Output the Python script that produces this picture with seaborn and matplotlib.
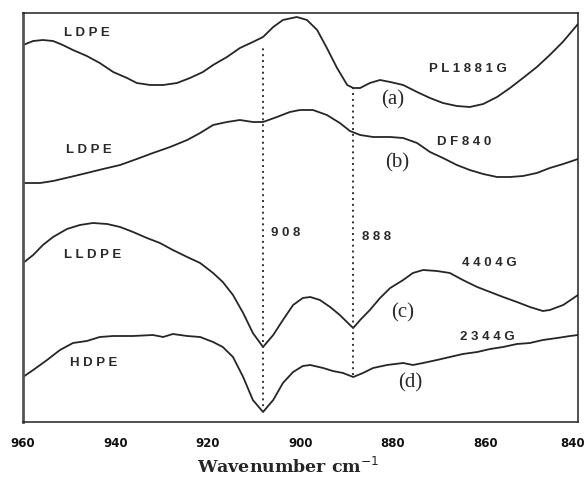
import pandas as pd
import matplotlib
matplotlib.use("Agg")
import matplotlib.pyplot as plt
import matplotlib.transforms as mtransforms
import seaborn as sns

# Wavenumber (cm-1) and relative absorbance (arbitrary units)
wn_a = [960.0, 957.8, 955.7, 953.5, 951.4, 949.2, 946.2, 943.4, 940.5, 937.5, 935.4, 932.5,
        929.7, 926.7, 923.9, 921.1, 918.9, 915.9, 913.1, 910.3, 908.1, 905.9, 903.8, 900.8,
        898.6, 896.4, 894.3, 892.1, 889.9, 888.6, 887.1, 885.0, 882.8, 880.6, 877.8, 874.8,
        872.0, 869.2, 866.2, 863.4, 860.5, 857.5, 854.7, 851.9, 848.9, 846.1, 843.3, 840.0]
ab_a = [377, 381, 382, 381, 377, 372, 366, 359, 350, 344, 339, 337,
        337, 339, 344, 350, 357, 365, 374, 380, 385, 395, 402, 405,
        402, 392, 374, 354, 337, 334, 334, 339, 342, 340, 337, 330,
        324, 319, 316, 315, 318, 325, 334, 344, 355, 367, 380, 398]

wn_b = [959.6, 956.3, 953.5, 949.8, 946.2, 942.7, 939.0, 935.4, 931.9, 928.2, 924.5, 921.7,
        918.9, 915.9, 913.1, 910.3, 908.1, 905.1, 902.3, 900.1, 897.3, 894.3, 891.5, 889.3,
        887.1, 884.3, 880.6, 877.8, 874.8, 872.0, 869.2, 866.2, 863.4, 860.5, 857.5, 854.7,
        851.9, 848.9, 846.1, 843.2, 840.0]
ab_b = [239, 239, 241, 245, 249, 253, 257, 263, 269, 275, 282, 289,
        297, 300, 302, 300, 300, 305, 310, 312, 312, 307, 299, 291,
        287, 285, 285, 284, 279, 270, 264, 257, 252, 248, 245, 245,
        246, 249, 254, 258, 263]

wn_c = [960.0, 957.8, 955.7, 953.5, 950.5, 947.7, 944.9, 941.8, 939.0, 936.2, 933.2, 930.4,
        927.6, 924.5, 921.7, 918.9, 916.8, 914.6, 912.4, 910.3, 908.1, 905.9, 903.8, 901.6,
        899.5, 897.9, 895.8, 893.6, 891.5, 889.3, 888.6, 887.1, 885.0, 882.8, 880.6, 877.8,
        875.7, 873.5, 870.5, 867.7, 864.9, 861.8, 859.0, 856.2, 853.2, 850.4, 847.6, 846.1,
        843.2, 840.0]
ab_c = [159, 167, 177, 185, 193, 197, 199, 198, 195, 190, 184, 179,
        172, 165, 159, 149, 140, 127, 109, 89, 75, 87, 102, 117,
        124, 125, 122, 115, 107, 97, 94, 102, 112, 124, 134, 142,
        149, 152, 151, 149, 142, 135, 130, 125, 120, 115, 111, 112,
        117, 127]

wn_d = [960.0, 957.8, 954.8, 952.0, 949.2, 946.2, 943.4, 940.5, 936.2, 931.9, 929.7, 927.6,
        924.5, 921.7, 918.9, 916.8, 914.6, 912.4, 910.3, 908.1, 905.9, 903.8, 901.6, 899.5,
        897.9, 895.1, 893.0, 890.8, 888.6, 886.5, 884.3, 881.3, 877.8, 875.7, 873.5, 870.5,
        867.7, 864.9, 861.8, 859.0, 856.2, 853.2, 850.4, 847.6, 844.5, 841.7, 840.0]
ab_d = [45, 52, 62, 72, 79, 81, 85, 86, 86, 87, 85, 88,
        86, 85, 80, 75, 65, 45, 22, 10, 22, 39, 50, 56,
        57, 54, 51, 49, 45, 49, 54, 57, 59, 57, 59, 62,
        65, 68, 70, 73, 75, 78, 79, 82, 84, 86, 87]

series_names = ["(a)", "(b)", "(c)", "(d)"]
polymer_labels = ["LDPE", "LDPE", "LLDPE", "HDPE"]
grade_labels = ["PL1881G", "DF840", "4404G", "2344G"]

# marked bands: label, position, absorbance span of the dotted line
band_labels = ["908", "888"]
band_pos = [908.1, 888.6]
band_lo = [10, 47]
band_hi = [374, 334]

xticks_major = [960, 940, 920, 900, 880, 860, 840]
xticks_minor = [950, 930, 910, 890, 870, 850]

frames = []
for name, w, a in zip(series_names, [wn_a, wn_b, wn_c, wn_d], [ab_a, ab_b, ab_c, ab_d]):
    frames.append(pd.DataFrame({"wn": w, "ab": a, "sample": name}))
df = pd.concat(frames, ignore_index=True)

sns.set_style("white")
plt.rcParams['font.family'] = ['DejaVu Sans']

fig = plt.figure(figsize=(5.88, 4.8), dpi=100)
ax = fig.add_axes([23/588, 58/480, 555/588, 409/480])

sns.lineplot(data=df, x="wn", y="ab", units="sample", estimator=None, sort=False,
             color="#262626", linewidth=1.3, ax=ax, legend=False)

ax.set_xlim(960, 840)
ax.set_ylim(0, 409)

for p, lo, hi in zip(band_pos, band_lo, band_hi):
    ax.plot([p, p], [lo, hi], linestyle=(0, (1, 2)), color="#333333", linewidth=1.4)

ax.set_yticks([])
ax.set_xticks(xticks_major)
ax.set_xticks(xticks_minor, minor=True)
ax.set_xticklabels([str(t) for t in xticks_major])
ax.tick_params(axis="x", which="major", direction="in", length=5, width=1, labelsize=8.5,
               pad=11, colors="#111111")
ax.tick_params(axis="x", which="minor", direction="in", length=3, width=1)
for lbl in ax.get_xticklabels():
    lbl.set_fontweight("bold")
# keep the last tick label inside the canvas
last = ax.get_xticklabels()[-1]
last.set_transform(last.get_transform() +
                   mtransforms.ScaledTranslation(-5 / 100, 0, fig.dpi_scale_trans))
for s in ax.spines.values():
    s.set_linewidth(1.1)
    s.set_color("#222222")
ax.spines["left"].set_linewidth(2.0)
ax.spines["left"].set_color("#555555")

ax.set_xlabel("Wavenumber cm$^{-1}$", fontsize=12.5, fontweight="bold",
              family=["DejaVu Serif"])
ax.xaxis.set_label_coords((288 - 23) / 555, -0.086)
ax.set_ylabel("")


def T(xp, yp):
    return ((xp - 23) / 555, (422 - yp) / 409)


def spaced(s):
    return " ".join(list(s))


sans = dict(fontsize=9.5, color="#2a2a2a", fontweight="bold",
            family=["Liberation Sans", "DejaVu Sans"])
serif = dict(fontsize=15, color="#2a2a2a", family=["Liberation Serif", "DejaVu Serif"])

poly_xy = [(64, 33), (66, 150), (64, 255), (70, 363)]
grade_xy = [(429, 69), (437, 142), (462, 263), (460, 337)]
series_xy = [(393, 100), (397, 163), (403, 313), (410, 383)]
band_xy = [(271, 233), (362, 237)]

for txt, (xp, yp) in zip(polymer_labels, poly_xy):
    fx, fy = T(xp, yp)
    ax.text(fx, fy, spaced(txt), transform=ax.transAxes, ha="left", va="center", **sans)
for txt, (xp, yp) in zip(grade_labels, grade_xy):
    fx, fy = T(xp, yp)
    ax.text(fx, fy, spaced(txt), transform=ax.transAxes, ha="left", va="center", **sans)
for txt, (xp, yp) in zip(band_labels, band_xy):
    fx, fy = T(xp, yp)
    ax.text(fx, fy, spaced(txt), transform=ax.transAxes, ha="left", va="center", **sans)
for txt, (xp, yp) in zip(series_names, series_xy):
    fx, fy = T(xp, yp)
    ax.text(fx, fy, txt, transform=ax.transAxes, ha="center", va="center", **serif)

fig.savefig("out.png", dpi=100)
